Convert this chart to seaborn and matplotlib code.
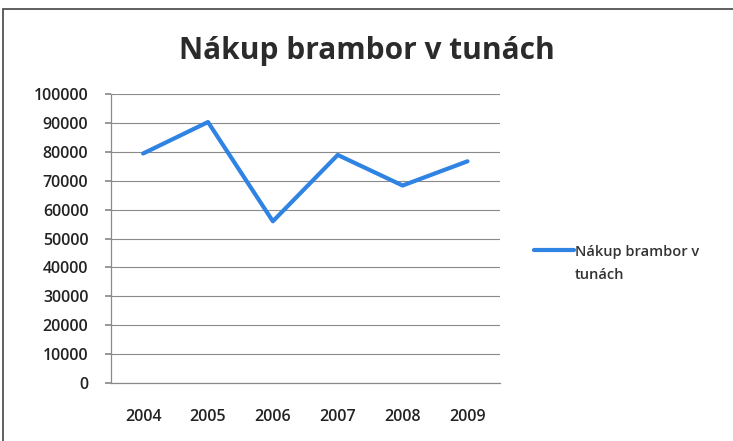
import pandas as pd
import matplotlib.pyplot as plt
import seaborn as sns
from matplotlib.patches import Rectangle

sns.set_theme(style="white")
plt.rcParams['font.family'] = ['Open Sans', 'DejaVu Sans']

# data
years = ['2004', '2005', '2006', '2007', '2008', '2009']
tons = [79500, 90400, 56000, 79000, 68400, 76800]
series = 'Nákup brambor v tunách'

df = pd.DataFrame({'Rok': years, 'Tuny': tons})

fig = plt.figure(figsize=(7.33, 4.41), dpi=100)
ax = fig.add_axes([0.151, 0.132, 0.531, 0.654])

sns.lineplot(data=df, x='Rok', y='Tuny', color='#2f83e3', linewidth=3,
             ax=ax, sort=False)

ax.set_xlim(-0.5, 5.5)
ax.set_ylim(0, 100000)
ax.set_yticks(range(0, 100001, 10000))
ax.set_yticklabels([str(v) for v in range(0, 100001, 10000)])
ax.yaxis.grid(True, color='#8a8a8a', linewidth=0.8)
ax.set_axisbelow(True)
ax.set_xlabel('')
ax.set_ylabel('')
for s in ['top', 'right']:
    ax.spines[s].set_visible(False)
for s in ['left', 'bottom']:
    ax.spines[s].set_color('#8a8a8a')
    ax.spines[s].set_linewidth(0.9)
ax.tick_params(axis='y', left=True, length=4, color='#8a8a8a', labelsize=11.5,
               labelcolor='#222222', pad=12)
ax.tick_params(axis='x', bottom=False, labelsize=11.5, labelcolor='#222222', pad=13)
for lab in ax.get_yticklabels() + ax.get_xticklabels():
    lab.set_fontweight('semibold')

fig.text(0.5, 0.884, series, ha='center', va='center', fontsize=21.5,
         fontweight='bold', color='#2b2b2b')

# legend: first line next to the handle, wrapped remainder below it
leg = ax.legend(handles=ax.get_lines()[:1], labels=['Nákup brambor v'],
                loc='center left', bbox_to_anchor=(1.055, 0.455),
                frameon=False, fontsize=10.5, handlelength=2.7, handletextpad=0.05,
                labelcolor='#333333')
for t in leg.get_texts():
    t.set_fontweight('semibold')

fig.canvas.draw()
bb = leg.get_texts()[0].get_window_extent().transformed(fig.transFigure.inverted())
fig.text(bb.x0, bb.y0 - 0.022, 'tunách', ha='left', va='top', fontsize=10.5,
         fontweight='semibold', color='#333333')

fig.patches.append(Rectangle((0.004, -0.2), 1.2, 1.18, transform=fig.transFigure,
                             fill=False, edgecolor='#444444', linewidth=1.2))

fig.savefig('out.png', dpi=100)
